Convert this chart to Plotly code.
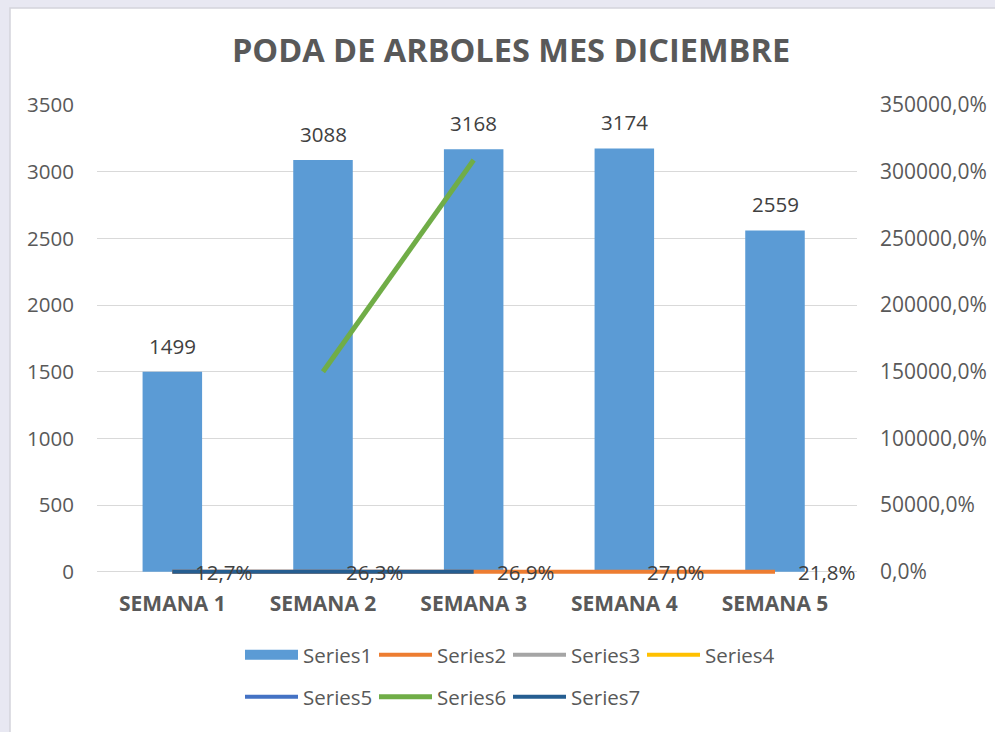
import plotly.graph_objects as go

# ---- data -------------------------------------------------------------
categories = ["SEMANA 1", "SEMANA 2", "SEMANA 3", "SEMANA 4", "SEMANA 5"]
series1 = [1499, 3088, 3168, 3174, 2559]          # trees pruned per week
series2 = [0.127, 0.263, 0.269, 0.270, 0.218]     # share of the month (secondary axis)
series3 = [None, None, None, None, None]
series4 = [None, None, None, None, None]
series5 = [None, None, None, None, None]
series6 = [None, 1499, 3088, None, None]          # secondary axis, fraction units
series7 = [0.0, 0.0, 0.0, None, None]
y_ticks = [0, 500, 1000, 1500, 2000, 2500, 3000, 3500]

# ---- geometry of the figure (pixels) -----------------------------------
W, H = 995, 732
Y_LOW = -25                     # small room under zero so the baseline lines are not clipped
ML, MR, MT = 97, 138, 105
PX_PER_UNIT = 467 / 3500
MB = 160 - round(-Y_LOW * PX_PER_UNIT)
PW, PH = W - ML - MR, H - MT - MB


def px_x(p):
    return (p - ML) / PW


def px_y(p):
    return (H - MB - p) / PH


FONT = "Open Sans, Noto Sans, sans-serif"
GREY = "#595959"
DARK = "#404040"
BLUE = "#5B9BD5"

fig = go.Figure()

fig.add_trace(go.Bar(
    x=categories, y=series1, name="Series1",
    marker=dict(color=BLUE, line=dict(width=0)),
    width=0.395, showlegend=False,
))
# legend swatch for the bars (wide block like the spreadsheet key)
fig.add_trace(go.Scatter(
    x=categories, y=series3, name="Series1", mode="lines",
    line=dict(color=BLUE, width=15), legend="legend",
))
fig.add_trace(go.Scatter(
    x=categories, y=series2, name="Series2", yaxis="y2", mode="lines",
    line=dict(color="#ED7D31", width=4), legend="legend",
))
fig.add_trace(go.Scatter(
    x=categories, y=series3, name="Series3", yaxis="y2", mode="lines",
    line=dict(color="#A5A5A5", width=4), legend="legend",
))
fig.add_trace(go.Scatter(
    x=categories, y=series4, name="Series4", yaxis="y2", mode="lines",
    line=dict(color="#FFC000", width=4), legend="legend",
))
fig.add_trace(go.Scatter(
    x=categories, y=series5, name="Series5", yaxis="y2", mode="lines",
    line=dict(color="#4472C4", width=4), legend="legend2",
))
fig.add_trace(go.Scatter(
    x=categories, y=series6, name="Series6", yaxis="y2", mode="lines",
    line=dict(color="#70AD47", width=5), legend="legend2",
))
fig.add_trace(go.Scatter(
    x=categories, y=series7, name="Series7", yaxis="y2", mode="lines",
    line=dict(color="#255E91", width=4), legend="legend2",
))

annotations = []
# value labels above the bars
for c, v in zip(categories, series1):
    annotations.append(dict(
        x=c, y=v, xref="x", yref="y", text=str(v), showarrow=False,
        yanchor="middle", yshift=26, font=dict(family=FONT, size=20.5, color=DARK),
    ))
# percentage labels to the right of the Series2 points
for c, v in zip(categories, series2):
    annotations.append(dict(
        x=c, y=v, xref="x", yref="y2", text=f"{v * 100:.1f}%".replace(".", ","),
        showarrow=False, xanchor="left", yanchor="middle", xshift=21,
        font=dict(family=FONT, size=20.5, color=DARK),
    ))

shapes = [
    # white card on a pale lavender backdrop
    dict(type="rect", xref="paper", yref="paper", layer="below",
         x0=px_x(10), x1=px_x(W + 5), y0=px_y(H + 5), y1=px_y(8),
         fillcolor="white", line=dict(color="#D4D4DC", width=1.5)),
]

legend_common = dict(
    orientation="h", xanchor="left", yanchor="middle",
    entrywidth=66, entrywidthmode="pixels", traceorder="normal",
    itemwidth=53, font=dict(family=FONT, size=20.5, color=GREY),
    bgcolor="rgba(0,0,0,0)",
)

fig.update_layout(
    width=W, height=H,
    margin=dict(l=ML, r=MR, t=MT, b=MB, pad=0, autoexpand=False),
    paper_bgcolor="#E8E8F2",
    plot_bgcolor="rgba(0,0,0,0)",
    separators=",.",
    title=dict(
        text="<b>PODA DE ARBOLES MES DICIEMBRE</b>",
        x=px_x(511), xref="paper", xanchor="center",
        y=1 - 51 / H, yref="container", yanchor="middle",
        font=dict(family=FONT, size=32.5, color=GREY),
    ),
    xaxis=dict(
        type="category", showgrid=False, showline=False, zeroline=False,
        ticks="", ticklabelstandoff=14, automargin=False,
        tickfont=dict(family=FONT, size=21, color=GREY, weight="bold"),
    ),
    yaxis=dict(
        range=[Y_LOW, 3500], tickvals=y_ticks, tickformat="d",
        showgrid=True, gridcolor="#D9D9D9", gridwidth=1.3, automargin=False,
        zeroline=False, showline=False, ticks="", ticklabelstandoff=22,
        tickfont=dict(family=FONT, size=20.5, color=GREY),
    ),
    yaxis2=dict(
        overlaying="y", side="right", range=[Y_LOW, 3500], tickvals=y_ticks,
        tickformat=".1%", showgrid=False, zeroline=False, showline=False,
        ticks="", ticklabelstandoff=22, automargin=False,
        tickfont=dict(family=FONT, size=21, color=GREY),
    ),
    legend=dict(x=px_x(240), y=px_y(655), **legend_common),
    legend2=dict(x=px_x(240), y=px_y(697), **legend_common),
    annotations=annotations,
    shapes=shapes,
)

fig.write_html("out.html")
